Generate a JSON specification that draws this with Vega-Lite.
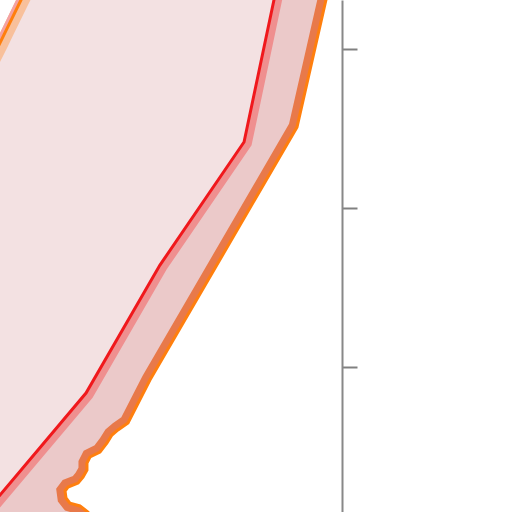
{
  "$schema": "https://vega.github.io/schema/vega-lite/v6.json",
  "width": 342,
  "height": 512,
  "padding": {"left": 0, "top": 0, "right": 170, "bottom": 0},
  "autosize": "none",
  "background": "white",
  "config": {
    "view": {"stroke": null}
  },
  "datasets": {
    "orange": [
      {"x": 2.082, "y": 3.434},
      {"x": 2.050, "y": 3.308},
      {"x": 1.868, "y": 2.509},
      {"x": 0.943, "y": 0.918},
      {"x": 0.805, "y": 0.648},
      {"x": 0.742, "y": 0.604},
      {"x": 0.704, "y": 0.572},
      {"x": 0.673, "y": 0.522},
      {"x": 0.629, "y": 0.465},
      {"x": 0.566, "y": 0.434},
      {"x": 0.547, "y": 0.396},
      {"x": 0.547, "y": 0.352},
      {"x": 0.522, "y": 0.308},
      {"x": 0.491, "y": 0.270},
      {"x": 0.428, "y": 0.245},
      {"x": 0.409, "y": 0.220},
      {"x": 0.415, "y": 0.176},
      {"x": 0.440, "y": 0.144},
      {"x": 0.503, "y": 0.126},
      {"x": 0.553, "y": 0.088},
      {"x": 0.591, "y": 0.038}
    ],
    "red": [
      {"x": 1.755, "y": 3.434},
      {"x": 1.723, "y": 3.308},
      {"x": 1.535, "y": 2.415},
      {"x": 1.006, "y": 1.641},
      {"x": 0.541, "y": 0.836},
      {"x": 0.0, "y": 0.195},
      {"x": -0.126, "y": 0.044}
    ],
    "corner": [
      {"xw": 0.164, "xo": 0.195, "y": 3.434},
      {"xw": 0.101, "xo": 0.132, "y": 3.308},
      {"xw": 0.0, "xo": 0.030, "y": 3.100},
      {"xw": -0.031, "xo": 0.0, "y": 3.038},
      {"xw": -0.094, "xo": -0.063, "y": 2.912}
    ]
  },
  "layer": [
    {
      "data": {"name": "orange"},
      "mark": {"type": "area", "orient": "horizontal", "color": "#ebc9c9", "clip": true},
      "encoding": {
        "y": {
          "field": "y",
          "type": "quantitative",
          "scale": {"domain": [0.0881, 3.3082], "nice": false, "zero": false},
          "axis": {
            "orient": "right",
            "values": [1, 2, 3],
            "labels": false,
            "title": null,
            "grid": false,
            "domain": true,
            "ticks": true,
            "domainColor": "#888888",
            "domainWidth": 2,
            "tickColor": "#808080",
            "tickWidth": 2,
            "tickSize": 15,
            "zindex": 1
          }
        },
        "x": {"field": "x", "type": "quantitative", "stack": null, "scale": {"domain": [0, 2.151], "nice": false, "zero": false}, "axis": null},
        "x2": {"datum": -0.2}
      }
    },
    {
      "data": {"name": "orange"},
      "mark": {"type": "line", "color": "#e8794a", "strokeWidth": 17, "clip": true},
      "encoding": {
        "y": {"field": "y", "type": "quantitative"},
        "x": {"field": "x", "type": "quantitative"},
        "order": {"field": "y", "type": "quantitative", "sort": "descending"}
      }
    },
    {
      "data": {"name": "red"},
      "mark": {"type": "line", "color": "#ef8f8f", "strokeWidth": 16, "clip": true},
      "encoding": {
        "y": {"field": "y", "type": "quantitative"},
        "x": {"field": "x", "type": "quantitative"},
        "order": {"field": "y", "type": "quantitative", "sort": "descending"}
      }
    },
    {
      "data": {"name": "red"},
      "mark": {"type": "area", "orient": "horizontal", "color": "#f3e1e2", "clip": true},
      "encoding": {
        "y": {"field": "y", "type": "quantitative"},
        "x": {"field": "x", "type": "quantitative", "stack": null},
        "x2": {"datum": -0.2}
      }
    },
    {
      "data": {"name": "orange"},
      "mark": {"type": "area", "orient": "horizontal", "color": "white", "clip": true},
      "encoding": {
        "y": {"field": "y", "type": "quantitative"},
        "x": {"field": "x", "type": "quantitative", "stack": null},
        "x2": {"datum": 2.3}
      }
    },
    {
      "data": {"name": "corner"},
      "mark": {"type": "line", "color": "#f8c09b", "strokeWidth": 17, "clip": true},
      "encoding": {
        "y": {"field": "y", "type": "quantitative"},
        "x": {"field": "xo", "type": "quantitative"},
        "order": {"field": "y", "type": "quantitative", "sort": "descending"}
      }
    },
    {
      "data": {"name": "corner"},
      "mark": {"type": "area", "orient": "horizontal", "color": "white", "clip": true},
      "encoding": {
        "y": {"field": "y", "type": "quantitative"},
        "x": {"field": "xw", "type": "quantitative", "stack": null},
        "x2": {"datum": -0.2}
      }
    },
    {
      "data": {"name": "corner"},
      "mark": {"type": "area", "orient": "horizontal", "color": "#f4a2a2", "clip": true},
      "encoding": {
        "y": {"field": "y", "type": "quantitative"},
        "x": {"field": "xw", "type": "quantitative", "stack": null},
        "x2": {"field": "xo"}
      }
    },
    {
      "data": {"name": "corner"},
      "mark": {"type": "line", "color": "#ff7f0e", "strokeWidth": 3, "clip": true},
      "encoding": {
        "y": {"field": "y", "type": "quantitative"},
        "x": {"field": "xo", "type": "quantitative"},
        "order": {"field": "y", "type": "quantitative", "sort": "descending"}
      }
    },
    {
      "data": {"name": "red"},
      "mark": {"type": "line", "color": "#f0181c", "strokeWidth": 3, "clip": true},
      "encoding": {
        "y": {"field": "y", "type": "quantitative"},
        "x": {"field": "x", "type": "quantitative"},
        "order": {"field": "y", "type": "quantitative", "sort": "descending"}
      }
    },
    {
      "data": {"name": "orange"},
      "mark": {"type": "line", "color": "#ff7f0e", "strokeWidth": 3, "clip": true},
      "encoding": {
        "y": {"field": "y", "type": "quantitative"},
        "x": {"field": "x", "type": "quantitative"},
        "order": {"field": "y", "type": "quantitative", "sort": "descending"}
      }
    }
  ]
}
